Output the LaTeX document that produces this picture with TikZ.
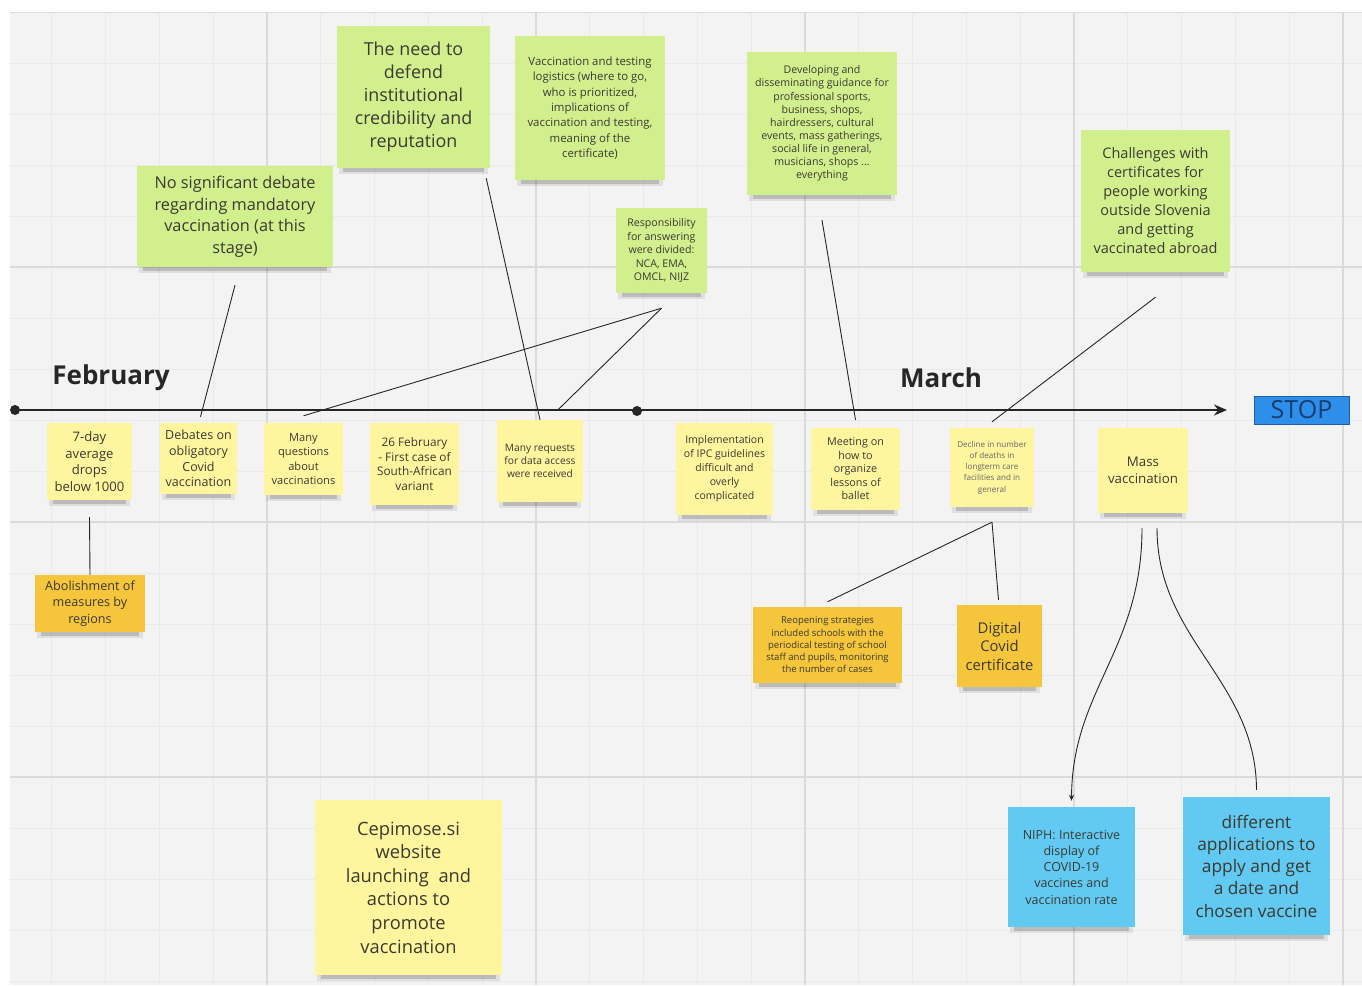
\documentclass[tikz,border=0pt]{standalone}
\usepackage{fontspec}
\setmainfont{Open Sans}
\usetikzlibrary{arrows.meta,calc}
\pgfdeclarelayer{gridlayer}
\pgfdeclarelayer{shadowlayer}
\pgfsetlayers{gridlayer,shadowlayer,main}
\definecolor{canvas}{HTML}{F3F3F3}
\definecolor{gridmajor}{HTML}{DADADA}
\definecolor{gridminor}{HTML}{EAEAEA}
\definecolor{notegreen}{HTML}{D2EF8E}
\definecolor{noteyellow}{HTML}{FFF59F}
\definecolor{noteorange}{HTML}{F5C63C}
\definecolor{noteblue}{HTML}{62C9F2}
\definecolor{stopblue}{HTML}{2D8FEA}
\definecolor{stopedge}{HTML}{1F5FA8}
\definecolor{stoptext}{HTML}{173E70}
\definecolor{notetext}{HTML}{3A3A30}
\tikzset{
  stickynote/.style={inner sep=0pt, align=center, text=notetext},
  connector/.style={draw=black!85, line width=0.9pt},
  heading/.style={font=\fontsize{26}{30}\selectfont\bfseries, text=black!85, inner sep=0pt},
}
\newcommand\sticky[9]{%
  \pgfmathsetmacro\stkw{#5-#3}\pgfmathsetmacro\stkh{#6-#4}%
  \node[stickynote, fill=#2, minimum width=\stkw pt, minimum height=\stkh pt,
        font=\fontsize{#7}{#8}\selectfont] (#1) at ({(#3+#5)/2},{(#4+#6)/2}) {#9};
  \begin{pgfonlayer}{shadowlayer}
    \fill[black, opacity=.08] ([xshift=2pt,yshift=4pt]#1.south west) rectangle ([xshift=-2pt,yshift=-6pt]#1.south east);
    \fill[black, opacity=.16] ([xshift=6pt,yshift=4pt]#1.south west) rectangle ([xshift=-6pt,yshift=-3.5pt]#1.south east);
  \end{pgfonlayer}
}
\begin{document}
\begin{tikzpicture}[x=1pt,y=-1pt]
\useasboundingbox (0,0) rectangle (1362,985);
\begin{pgfonlayer}{gridlayer}
  \fill[white] (0,0) rectangle (1362,985);
  \fill[canvas] (10,12) rectangle (1362,985);
  \begin{scope}
    \clip (10,12) rectangle (1362,985);
    \foreach \k in {0,...,26} {\draw[gridminor, line width=0.8pt] ({-2+\k*53.8},0) -- ({-2+\k*53.8},985);}
    \foreach \k in {0,...,20} {\draw[gridminor, line width=0.8pt] (0,{12+\k*51}) -- (1362,{12+\k*51});}
    \foreach \k in {1,...,5} {\draw[gridmajor, line width=1.2pt] ({-2+\k*269},0) -- ({-2+\k*269},985);}
    \foreach \k in {0,...,3} {\draw[gridmajor, line width=1.2pt] (0,{12+\k*255}) -- (1362,{12+\k*255});}
  \end{scope}
\end{pgfonlayer}

% headings
\node[heading] (feb) at (111,378) {February};
\node[heading] (mar) at (941,378) {March};

% axis
\coordinate (axstart) at (15,410);
\coordinate (axmid) at (637,411);
\coordinate (axend) at (1227,410);
\draw[line width=2.6pt, black!85, -{Stealth[length=13pt,width=11pt]}] (axstart) -- (axend);
\fill[black!85] (axstart) circle (5);
\fill[black!85] (axmid) circle (5);

% STOP
\node[draw=stopedge, fill=stopblue, line width=1pt, minimum width=95pt, minimum height=28pt, inner sep=0pt,
      font=\fontsize{25}{26}\selectfont, text=stoptext] (stop) at (1301.5,410) {STOP};

% green notes
\sticky{n1}{notegreen}{137}{166}{333}{267}{16.3}{21.5}{No significant debate\\regarding mandatory\\vaccination (at this\\stage)}
\sticky{n2}{notegreen}{337}{26}{490}{168}{17.9}{23}{The need to\\defend\\institutional\\credibility and\\reputation}
\sticky{n3}{notegreen}{515}{36}{665}{180}{11.4}{15.3}{Vaccination and testing\\logistics (where to go,\\who is prioritized,\\implications of\\vaccination and testing,\\meaning of the\\certificate)}
\sticky{n4}{notegreen}{616}{208}{707}{293}{10.6}{13.5}{Responsibility\\for answering\\were divided:\\NCA, EMA,\\OMCL, NIJZ}
\sticky{n5}{notegreen}{747}{52}{897}{195}{10.6}{13.1}{Developing and\\disseminating guidance for\\professional sports,\\business, shops,\\hairdressers,  cultural\\events, mass gatherings,\\social life in general,\\musicians, shops ...\\everything}
\sticky{n6}{notegreen}{1081}{130}{1230}{272}{14.5}{19}{Challenges with\\certificates for\\people working\\outside Slovenia\\and getting\\vaccinated abroad}

% yellow notes on the axis
\sticky{a}{noteyellow}{47}{423}{132}{500}{13.1}{16.7}{7-day\\average\\drops\\below 1000}
\sticky{b}{noteyellow}{160}{423}{237}{494}{12.5}{15.7}{Debates on\\obligatory\\Covid\\vaccination}
\sticky{c}{noteyellow}{264}{423}{343}{495}{11.1}{14.3}{Many\\questions\\about\\vaccinations}
\sticky{d}{noteyellow}{370}{423}{459}{505}{11.8}{14.7}{26 February\\- First case of\\South-African\\variant}
\sticky{e}{noteyellow}{497}{420}{583}{502}{10.2}{13}{Many requests\\for data access\\were received}
\sticky{f}{noteyellow}{676}{423}{773}{515}{10.5}{14}{Implementation\\of IPC guidelines\\difficult and\\overly\\complicated}
\sticky{g}{noteyellow}{811}{428}{900}{510}{10.8}{13.5}{Meeting on\\how to\\organize\\lessons of\\ballet}
\sticky{h}{noteyellow}{950}{428}{1034}{507}{8.1}{11.25}{\color{black!60}Decline in number\\\color{black!60}of deaths in\\\color{black!60}longterm care\\\color{black!60}facilities and in\\\color{black!60}general}
\sticky{i}{noteyellow}{1098}{428}{1188}{513}{13.3}{17}{Mass\\vaccination}

% orange notes
\sticky{o1}{noteorange}{35}{575}{145}{632}{12.6}{16.5}{Abolishment of\\measures by\\regions}
\sticky{o2}{noteorange}{753}{607}{902}{683}{9.5}{12.25}{Reopening strategies\\included schools with the\\periodical testing of school\\staff and pupils, monitoring\\the number of cases}
\sticky{o3}{noteorange}{957}{605}{1042}{687}{14.8}{18.5}{Digital\\Covid\\certificate}

% big yellow note
\sticky{big}{noteyellow}{315}{800}{502}{975}{18.3}{23.6}{Cepimose.si\\website\\launching~ and\\actions to\\promote\\vaccination}

% blue notes
\sticky{bl1}{noteblue}{1008}{807}{1135}{927}{12.5}{16.25}{NIPH: Interactive\\display of\\COVID-19\\vaccines and\\vaccination rate}
\sticky{bl2}{noteblue}{1183}{797}{1330}{935}{17.3}{22.25}{different\\applications to\\apply and get\\a date and\\chosen vaccine}

% connectors
\draw[connector] ($(n1.south)+(0,18)$) -- ($(b.north)+(2,-6)$);
\draw[connector] ($(n2.south east)+(-4,10)$) -- (e.north);
\draw[connector] ($(n4.south)+(0,15)$) -- ($(c.north)+(0,-7)$);
\draw[connector] ($(n4.south)+(0,15)$) -- ($(e.north)+(18,-10)$);
\draw[connector] ($(n5.south)+(0,25)$) -- ($(g.north)+(0,-8)$);
\draw[connector] ($(n6.south)+(0,25)$) -- ($(h.north)+(0,-6)$);
\draw[connector] ($(a.south)+(0,17)$) -- (o1.north);
\draw[connector] ($(h.south)+(0,15)$) -- ($(o2.north)+(0,-5)$);
\draw[connector] ($(h.south)+(0,15)$) -- ($(o3.north)+(-1,-5)$);
\draw[connector, -{Stealth[length=6pt,width=5pt]}] ($(i.south)+(-1,15)$) .. controls (1142,650) and (1072,690) .. ($(bl1.north)+(0,-6)$);
\draw[connector] ($(i.south)+(14,15)$) .. controls (1157,640) and (1256,680) .. ($(bl2.north)+(0,-7)$);
\end{tikzpicture}
\end{document}
